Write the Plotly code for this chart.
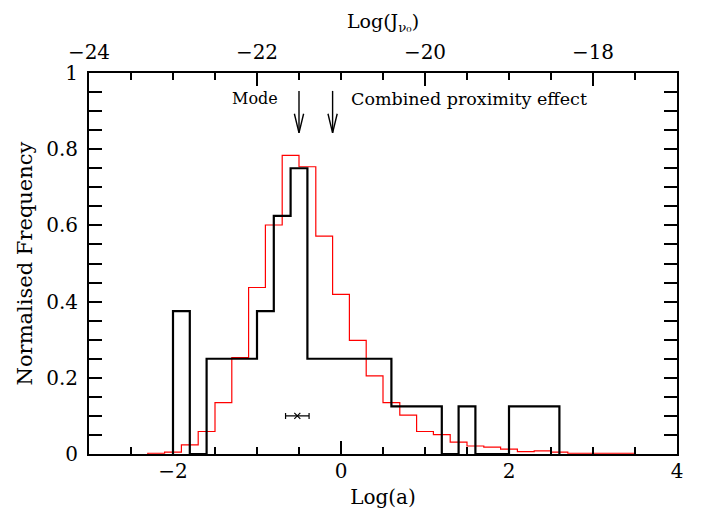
import numpy as np
import plotly.graph_objects as go

# ---------------- data ----------------
# black histogram: bin left edges (width 0.2) and normalised heights
black_edges = [-2.0, -1.8, -1.6, -1.4, -1.2, -1.0, -0.8, -0.6, -0.4, -0.2,
               0.0, 0.2, 0.4, 0.6, 0.8, 1.0, 1.2, 1.4, 1.6, 1.8, 2.0, 2.2, 2.4]
black_heights = [0.375, 0.0, 0.25, 0.25, 0.25, 0.375, 0.625, 0.75, 0.25, 0.25,
                 0.25, 0.25, 0.25, 0.125, 0.125, 0.125, 0.0, 0.125, 0.0, 0.0,
                 0.125, 0.125, 0.125]
black_width = 0.2

# red histogram: bin left edges (width 0.2) and normalised heights
red_edges = [-2.3, -2.1, -1.9, -1.7, -1.5, -1.3, -1.1, -0.9, -0.7, -0.5,
             -0.3, -0.1, 0.1, 0.3, 0.5, 0.7, 0.9, 1.1, 1.3, 1.5,
             1.7, 1.9, 2.1, 2.3, 2.5, 2.7, 2.9, 3.1, 3.3]
red_heights = [0.002, 0.005, 0.024, 0.059, 0.135, 0.253, 0.437, 0.601, 0.784, 0.754,
               0.572, 0.419, 0.298, 0.205, 0.135, 0.102, 0.059, 0.051, 0.031, 0.021,
               0.018, 0.013, 0.006, 0.008, 0.005, 0.002, 0.002, 0.002, 0.002]
red_width = 0.2

# error-bar point
err_x = [-0.52]
err_y = [0.1]
err_dx = [0.14]

# arrows (x position, top of shaft, tip)
arrow_x = [-0.5, -0.1]
arrow_top = 0.953
arrow_tip = 0.843
label_y = 0.933
mode_label_x = -0.73
comb_label_x = 0.10

x_range = [-3, 4]
top_range = [-24, -17]
y_range = [0, 1]

FONT = "DejaVu Serif"


def step_xy(edges, heights, width):
    edges = list(edges)
    xs = [edges[0]] + edges + [edges[-1] + width]
    ys = [0.0] + list(heights) + [0.0]
    return xs, ys


fig = go.Figure()

rx, ry = step_xy(red_edges, red_heights, red_width)
fig.add_trace(go.Scatter(x=rx, y=ry, mode="lines", line=dict(color="#ff0000", width=1.2, shape="hv"),
                         hoverinfo="skip", showlegend=False))

bx, by = step_xy(black_edges, black_heights, black_width)
fig.add_trace(go.Scatter(x=bx, y=by, mode="lines", line=dict(color="black", width=2.2, shape="hv"),
                         hoverinfo="skip", showlegend=False))

# error bar point
fig.add_trace(go.Scatter(x=err_x, y=err_y, mode="markers",
                         marker=dict(symbol="x-thin", size=6, line=dict(color="black", width=1.2), color="black"),
                         error_x=dict(type="data", array=err_dx, color="black", thickness=1.2, width=3),
                         hoverinfo="skip", showlegend=False))

# arrows: shaft + open V head
head_dx = 0.055
head_dy = 0.05
for ax_ in arrow_x:
    fig.add_trace(go.Scatter(x=[ax_, ax_], y=[arrow_top, arrow_tip], mode="lines",
                             line=dict(color="black", width=1.4), hoverinfo="skip", showlegend=False))
    fig.add_trace(go.Scatter(x=[ax_ - head_dx, ax_, ax_ + head_dx],
                             y=[arrow_tip + head_dy, arrow_tip, arrow_tip + head_dy], mode="lines",
                             line=dict(color="black", width=1.4), hoverinfo="skip", showlegend=False))

# invisible trace to activate the top axis
fig.add_trace(go.Scatter(x=top_range, y=[-1, -1], xaxis="x2", mode="markers",
                         marker=dict(opacity=0), hoverinfo="skip", showlegend=False))

fig.add_annotation(x=mode_label_x, y=label_y, text="Mode", showarrow=False, xanchor="right",
                   yanchor="middle", font=dict(family=FONT, size=16, color="black"))
fig.add_annotation(x=comb_label_x, y=label_y, text="Combined proximity effect", showarrow=False,
                   xanchor="left", yanchor="middle", font=dict(family=FONT, size=17.5, color="black"))

axis_common = dict(showline=True, linecolor="black", linewidth=2, showgrid=False, zeroline=False,
                   ticks="inside", tickcolor="black", tickwidth=1.5, ticklen=13, automargin=False,
                   tickfont=dict(family=FONT, size=20, color="black"))

minor_common = dict(ticklen=7, tickcolor="black", tickwidth=1.5, ticks="inside")

# page body has an 8px default margin: the figure is sized/offset to compensate
fig.update_layout(
    width=695, height=508,
    margin=dict(l=81, r=26, t=65, b=62),
    paper_bgcolor="white", plot_bgcolor="white",
    showlegend=False,
    xaxis=dict(range=x_range, tick0=0, dtick=2, ticklabelstandoff=-2,
               minor=dict(dtick=0.5, **minor_common),
               title=dict(text="Log(a)", font=dict(family=FONT, size=20, color="black"), standoff=8),
               **axis_common),
    xaxis2=dict(range=top_range, overlaying="x", side="top", anchor="y", tick0=-24, dtick=2,
                ticklabelstandoff=4,
                minor=dict(dtick=0.5, **minor_common),
                title=dict(text="Log(J<sub>ν₀</sub>)", font=dict(family=FONT, size=19, color="black"), standoff=6),
                **axis_common),
    yaxis=dict(range=y_range, tick0=0, dtick=0.2, mirror="allticks", ticklabelstandoff=5,
               minor=dict(dtick=0.05, **minor_common),
               title=dict(text="Normalised Frequency", font=dict(family=FONT, size=21, color="black"), standoff=8),
               **axis_common),
)

fig.write_html("out.html")
